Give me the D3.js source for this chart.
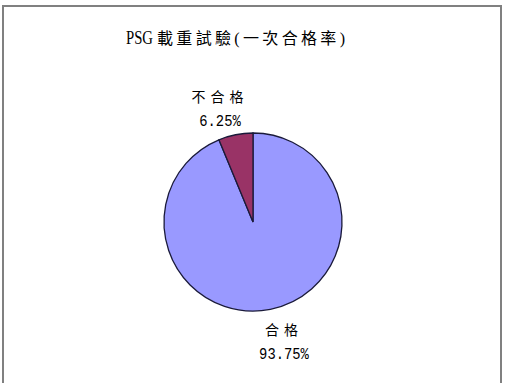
<!DOCTYPE html>
<html>
<head>
<meta charset="utf-8">
<script src="https://cdn.jsdelivr.net/npm/d3@7"></script>
<style>
  body { margin: 0; background: #fff; }
  text { font-family: "Liberation Serif", "Noto Sans CJK TC", serif; fill: #000; }
</style>
</head>
<body>
<svg id="chart"></svg>
<script>
// data
const categories = ["合格", "不合格"];
const values     = [93.75, 6.25];
const labelText  = ["93.75%", "6.25%"];
const colors     = ["#9999FF", "#993366"];
const titleParts = ["PSG", "載重試驗(一次合格率)"];

let width  = 509,
    height = 383,
    cx     = 253,
    cy     = 222,
    radius = 89;

const svg = d3.select('#chart')
    .attr('width', width)
    .attr('height', height);

// outer frame (bottom edge runs off the picture)
svg.append('rect')
    .attr('x', 3).attr('y', 6)
    .attr('width', 498).attr('height', 390)
    .attr('fill', 'none')
    .attr('stroke', '#808080')
    .attr('stroke-width', 2);

svg.append('text')
    .attr('x', 126).attr('y', 44)
    .attr('textLength', 27)
    .attr('lengthAdjust', 'spacingAndGlyphs')
    .style('font-size', '18px')
    .text(titleParts[0]);

svg.append('text')
    .attr('x', 157).attr('y', 44)
    .attr('textLength', 188)
    .attr('lengthAdjust', 'spacing')
    .style('font-size', '16px')
    .text(titleParts[1]);

const pie = d3.pie().sort(null).value(d => d.v);
const arc = d3.arc().innerRadius(0).outerRadius(radius);

const rows = categories.map((c, i) => ({ c: c, v: values[i], t: labelText[i], col: colors[i] }));

const g = svg.append('g').attr('transform', `translate(${cx},${cy})`);

g.selectAll('path')
    .data(pie(rows))
    .enter()
    .append('path')
    .attr('d', arc)
    .attr('fill', d => d.data.col)
    .attr('stroke', '#1a1a3a')
    .attr('stroke-width', 1.3);

// labels outside the slices
const offsets = [[ 31, 113 ], [ -33, -120 ]];

const lab = svg.selectAll('.lab')
    .data(pie(rows))
    .enter()
    .append('g')
    .attr('class', 'lab')
    .attr('transform', (d, i) => `translate(${cx + offsets[i][0]},${cy + offsets[i][1]})`);

lab.append('text')
    .attr('text-anchor', 'middle')
    .style('font-size', '14px')
    .style('letter-spacing', '5px')
    .text(d => d.data.c);

lab.append('text')
    .attr('text-anchor', 'middle')
    .attr('y', 24)
    .attr('textLength', d => d.data.t.length * 8.3)
    .attr('lengthAdjust', 'spacingAndGlyphs')
    .style('font-family', '"Liberation Mono", monospace')
    .style('font-size', '17px')
    .text(d => d.data.t);
</script>
</body>
</html>
